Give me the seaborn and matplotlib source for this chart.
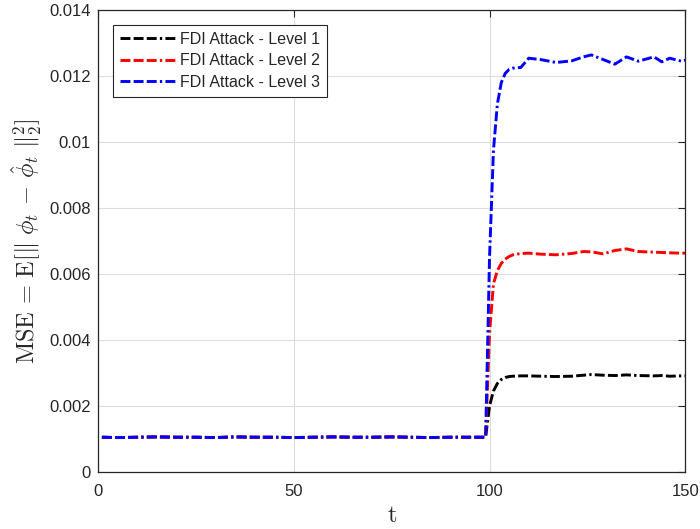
import numpy as np
import pandas as pd
import matplotlib
matplotlib.use("Agg")
import matplotlib.pyplot as plt
import seaborn as sns

# ---- data ----
t_pre = [1, 5, 10, 15, 20, 25, 30, 35, 40, 45, 50, 55, 60, 65, 70, 75, 80, 85, 90, 95, 99]
base = [0.00105, 0.00104, 0.00105, 0.00106, 0.00105, 0.00105, 0.00104, 0.00106, 0.00105,
        0.00105, 0.00104, 0.00105, 0.00106, 0.00105, 0.00105, 0.00106, 0.00105, 0.00104,
        0.00105, 0.00105, 0.00105]

t_post = [100, 101, 102, 103, 104, 105, 106, 108, 110, 113, 117, 121, 124, 126, 129, 132,
          135, 138, 142, 144, 146, 149, 150]
level1_post = [0.00200, 0.00245, 0.00268, 0.00280, 0.00286, 0.00289, 0.00290, 0.00291,
               0.00291, 0.00290, 0.00289, 0.00290, 0.00293, 0.00295, 0.00293, 0.00292,
               0.00294, 0.00292, 0.00291, 0.00292, 0.00290, 0.00291, 0.00291]
level2_post = [0.00420, 0.00570, 0.00610, 0.00632, 0.00645, 0.00653, 0.00658, 0.00662,
               0.00663, 0.00660, 0.00658, 0.00662, 0.00668, 0.00667, 0.00661, 0.00671,
               0.00676, 0.00668, 0.00666, 0.00665, 0.00664, 0.00663, 0.00663]
level3_post = [0.00650, 0.00975, 0.01115, 0.01180, 0.01208, 0.01220, 0.01224, 0.01226,
               0.01254, 0.01250, 0.01241, 0.01246, 0.01258, 0.01264, 0.01250, 0.01236,
               0.01258, 0.01245, 0.01258, 0.01243, 0.01254, 0.01245, 0.01248]

labels = ["FDI Attack - Level 1", "FDI Attack - Level 2", "FDI Attack - Level 3"]
colors = ["black", "red", "blue"]

t_all = t_pre + t_post
series = [base + level1_post, base + level2_post, base + level3_post]

df = pd.concat([pd.DataFrame({"t": t_all, "mse": s, "series": lab})
                for s, lab in zip(series, labels)], ignore_index=True)

# ---- style ----
sns.set_style("white")
plt.rcParams["font.family"] = ["Liberation Sans", "DejaVu Sans"]
plt.rcParams["mathtext.fontset"] = "cm"

fig = plt.figure(figsize=(7.0, 5.29), dpi=100)
ax = fig.add_axes([0.140, 0.108, 0.839, 0.873])

dash = (0, (3.4, 1.1, 3.4, 1.1, 3.4, 1.1, 0.8, 1.1))
for lab, col in zip(labels, colors):
    sub = df[df["series"] == lab]
    sns.lineplot(data=sub, x="t", y="mse", ax=ax, color=col, label=lab,
                 linewidth=2.1, linestyle=dash, estimator=None, sort=False)

ax.set_xlim(0, 150)
ax.set_ylim(0, 0.014)
ax.set_xticks([0, 50, 100, 150])
ax.set_yticks([0, 0.002, 0.004, 0.006, 0.008, 0.01, 0.012, 0.014])
ax.set_yticklabels(["0", "0.002", "0.004", "0.006", "0.008", "0.01", "0.012", "0.014"])
ax.tick_params(direction="in", top=True, right=True, length=5, width=0.8,
               labelsize=12, colors="#262626")
ax.tick_params(axis="x", pad=9)
ax.tick_params(axis="y", pad=5)
ax.grid(True, color="#dcdcdc", linewidth=0.8)
for sp in ax.spines.values():
    sp.set_visible(True)
    sp.set_color("#262626")
    sp.set_linewidth(0.9)

ax.set_xlabel(r"$\mathrm{t}$", fontsize=17.5, labelpad=4)
ax.set_ylabel(r"$\mathrm{MSE}\,=\,\mathrm{E}[\Vert\ \phi_t\,-\,\hat{\phi}_t\ \Vert_2^2]$",
              fontsize=17.5, labelpad=4)

leg = ax.legend(loc="upper left", bbox_to_anchor=(0.026, 0.968), fontsize=11.5,
                frameon=True, fancybox=False, framealpha=1, edgecolor="#262626",
                borderpad=0.45, labelspacing=0.4, handlelength=3.4, handletextpad=0.3,
                borderaxespad=0.0)
leg.get_frame().set_linewidth(0.8)

fig.savefig("out.png", dpi=100)
